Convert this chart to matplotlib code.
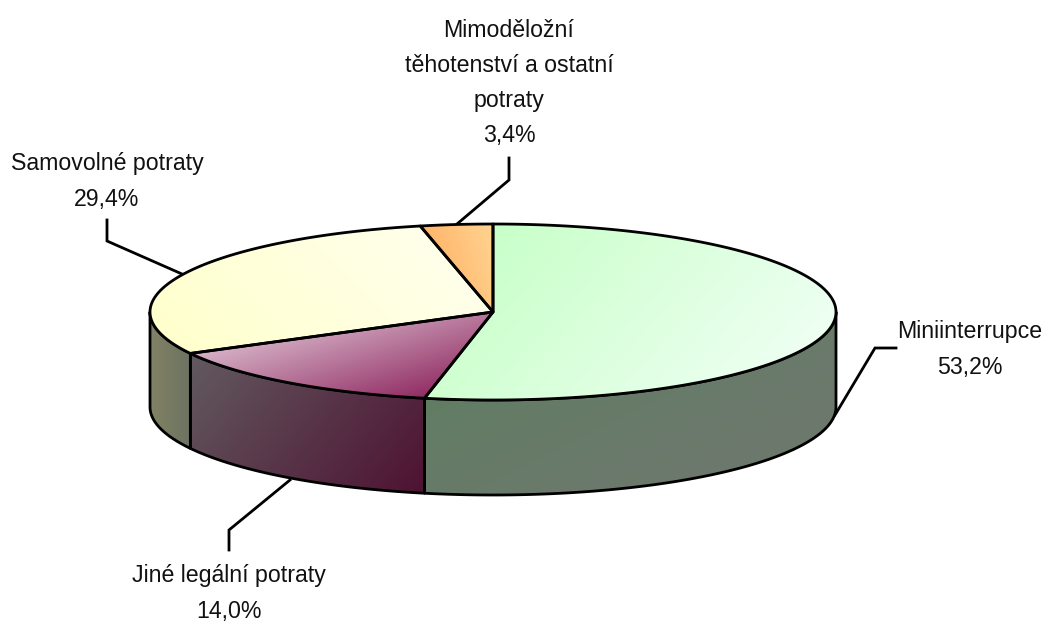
import numpy as np
import matplotlib
matplotlib.use("Agg")
import matplotlib.pyplot as plt
from matplotlib.path import Path
from matplotlib.patches import PathPatch

plt.rcParams['font.family'] = ['Liberation Sans', 'DejaVu Sans']

categories = ["Miniinterrupce", "Jiné legální potraty", "Samovolné potraty",
              "Mimoděložní\ntěhotenství a ostatní\npotraty"]
values = [53.2, 14.0, 29.4, 3.4]

top_stops = [((200, 255, 200), (238, 255, 242)),
             ((215, 180, 200), (145, 45, 100)),
             ((255, 255, 205), (255, 255, 235)),
             ((255, 180, 105), (255, 212, 145))]
top_dirs = [(1, 0.9), (0.3, 1), (1, -1), (1, -0.3)]
side_stops = [((98, 125, 100), (110, 120, 110)),
              ((98, 90, 96), (78, 18, 50)),
              ((130, 130, 100), (108, 115, 98)),
              ((100, 100, 100), (100, 100, 100))]
side_dirs = [(0.5, 1), (1, 0.8), (1, 0), (1, 0)]

label_xy = [(970, 349.5), (229, 593.5), (107, 181.5), (509, 83)]
leaders = [[(835, 415), (875, 348), (896, 348)],
           [(290, 480), (229, 530), (229, 550)],
           [(182, 274), (107, 241), (107, 220)],
           [(457, 224), (509, 180), (509, 158)]]

CX, CY, RX, RY, DEPTH = 493, 312, 343, 88, 95
LW = 2.0

fig = plt.figure(figsize=(10.47, 6.21), dpi=100)
ax = fig.add_axes([0, 0, 1, 1])
ax.set_xlim(0, 1047)
ax.set_ylim(621, 0)
ax.axis("off")


def rim(t0, t1, dy=0.0):
    t = np.radians(np.linspace(t0, t1, 200))
    return np.column_stack([CX + RX * np.sin(t), CY - RY * np.cos(t) + dy])


def fill(poly, stops, direction, z):
    xmin, ymin = poly.min(axis=0)
    xmax, ymax = poly.max(axis=0)
    xs = np.linspace(xmin, xmax, 200)
    ys = np.linspace(ymin, ymax, 200)
    gx, gy = np.meshgrid(xs, ys)
    proj = gx * direction[0] + gy * direction[1]
    pp = poly[:, 0] * direction[0] + poly[:, 1] * direction[1]
    f = np.clip((proj - pp.min()) / (pp.max() - pp.min()), 0, 1)[..., None]
    c0, c1 = np.array(stops[0]) / 255, np.array(stops[1]) / 255
    img = c0 * (1 - f) + c1 * f
    patch = PathPatch(Path(np.vstack([poly, poly[:1]]), closed=True),
                      fc="none", ec="black", lw=LW, zorder=z + 0.1,
                      joinstyle="round")
    ax.add_patch(patch)
    im = ax.imshow(img, extent=(xmin, xmax, ymax, ymin), aspect="auto",
                   zorder=z, interpolation="bilinear")
    im.set_clip_path(patch)


ax.set_autoscale_on(False)
bounds = np.concatenate([[0], np.cumsum(values)]) / sum(values) * 360

# side walls (only the front half of the disc is visible)
for i in range(len(values)):
    t0, t1 = max(bounds[i], 90), min(bounds[i + 1], 270)
    if t1 <= t0:
        continue
    poly = np.vstack([rim(t0, t1), rim(t1, t0, DEPTH)])
    fill(poly, side_stops[i], side_dirs[i], 2)

# top faces
for i in range(len(values)):
    poly = np.vstack([[(CX, CY)], rim(bounds[i], bounds[i + 1])])
    fill(poly, top_stops[i], top_dirs[i], 3)

# leaders and labels
for cat, val, (x, y), pts in zip(categories, values, label_xy, leaders):
    p = np.array(pts)
    ax.plot(p[:, 0], p[:, 1], color="black", lw=LW, zorder=1,
            solid_joinstyle="miter")
    txt = f"{cat}\n{val:.1f}%".replace(".", ",")
    ax.text(x, y, txt, ha="center", va="center", fontsize=16.7,
            color="#111111", linespacing=1.67, zorder=5)

fig.savefig("out.png", dpi=100, facecolor="white")
